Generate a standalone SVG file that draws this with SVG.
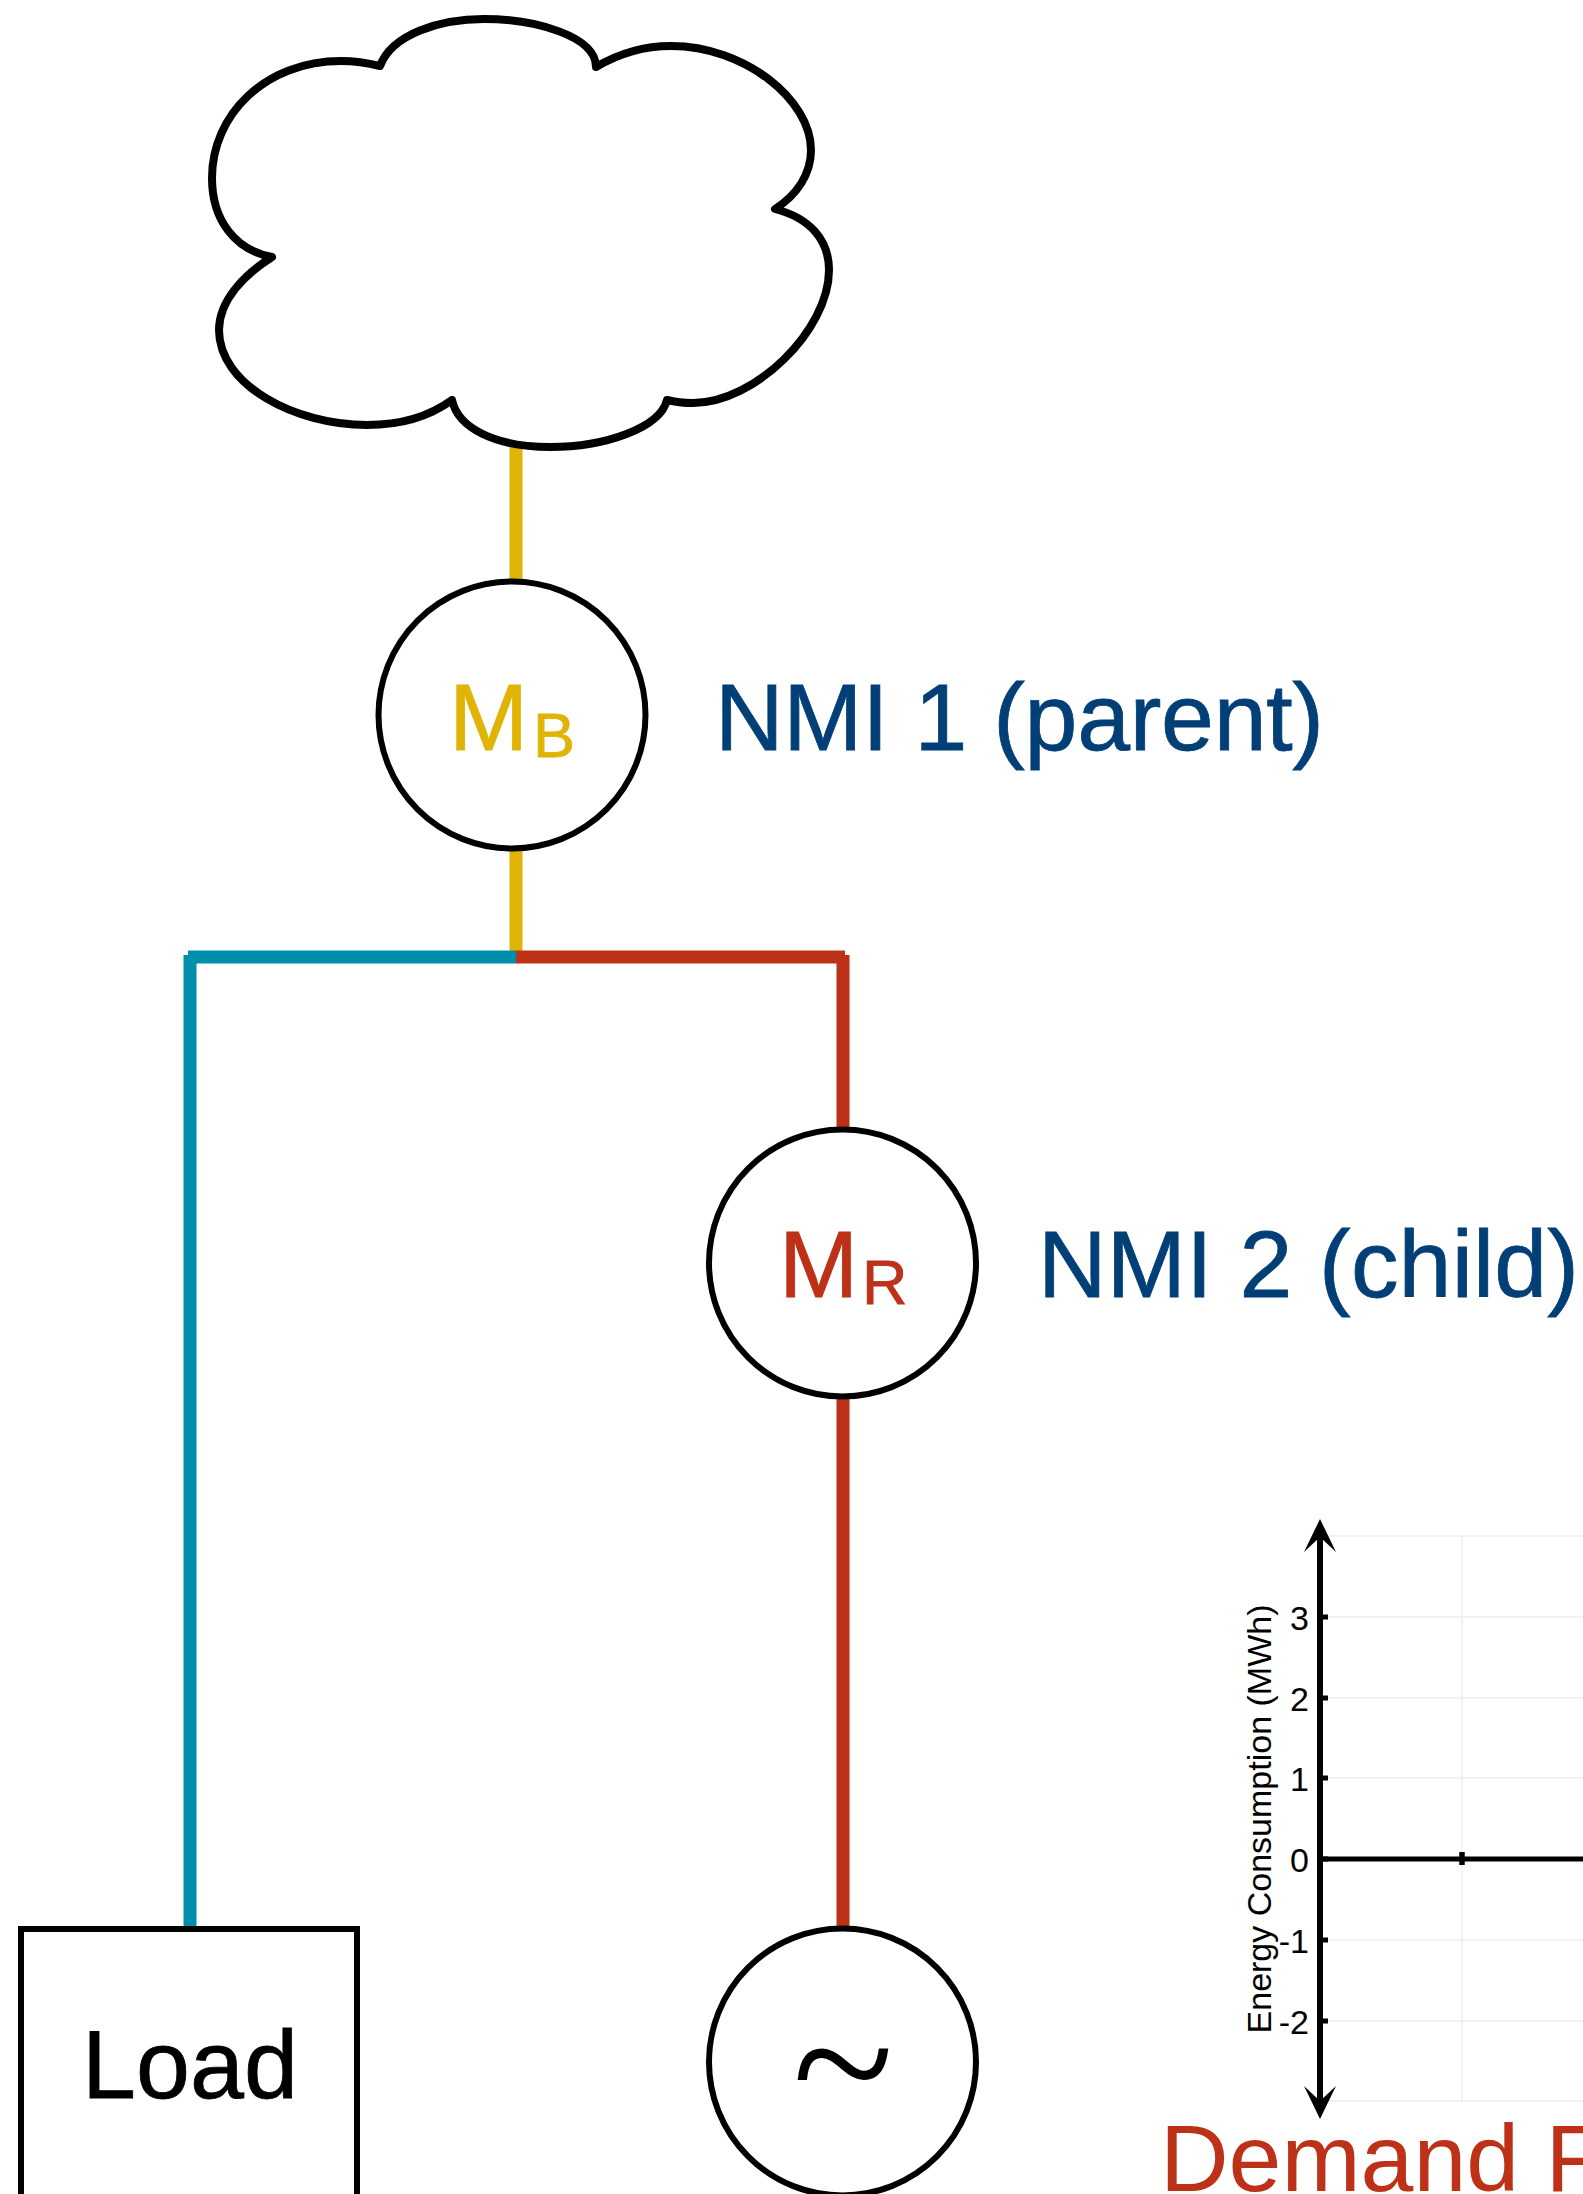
<svg xmlns="http://www.w3.org/2000/svg" width="1583" height="2194" viewBox="0 0 1583 2194">
<defs><style>
text{font-family:"Liberation Sans",Arial,sans-serif}
.wire{fill:none;stroke-width:13}
.y{stroke:#E0B406}.r{stroke:#BD3118}.t{stroke:#008FAB}
.node{fill:#fff;stroke:#000;stroke-width:6}
.big{font-size:95px}
.sub{font-size:63px}
.navy{fill:#023F77;stroke:#023F77;stroke-width:.8}
.grid{stroke:#EEE;stroke-width:1.5;fill:none}
.tick{font-size:34px;text-anchor:end}
</style></defs>
<rect width="1583" height="2194" fill="#fff"/>
<g id="connectors">
<path class="wire y" d="M516 440V957"/>
<path class="wire t" d="M516 957H188M190 955V1932"/>
<path class="wire r" d="M516 957H845M843 955V1932"/>
</g>
<g id="cloud"><path d="M380 66C392 34 440 19 484 19C535 19 596 36 596 67C618 54 642 46 671 46C745 46 811 100 811 150C811 174 797 195 775 209C810 218 829 240 829 270C829 330 755 403 693 403C684 403 675 402 667 400C660 428 605 447 550 447C495 447 458 428 452 400C430 416 400 425 367 425C295 425 219 385 219 330C219 300 245 274 272 257C235 250 212 220 212 178C212 115 265 61 341 61C355 61 368 63 380 66Z" fill="#fff" stroke="#000" stroke-width="8" stroke-linejoin="round"/></g>
<g id="meter-b"><circle class="node" cx="512" cy="715" r="133.5"/>
<text class="big" x="449" y="750" fill="#E0B406" stroke="#E0B406" stroke-width=".8">M</text><text class="sub" x="533" y="757" fill="#E0B406" stroke="#E0B406" stroke-width=".8">B</text></g>
<text id="nmi1" class="big navy" x="715" y="750" textLength="609">NMI 1 (parent)</text>
<g id="meter-r"><circle class="node" cx="842.5" cy="1263" r="133.5"/>
<text class="big" x="779" y="1297" fill="#BD3118" stroke="#BD3118" stroke-width=".8">M</text><text class="sub" x="862" y="1304" fill="#BD3118" stroke="#BD3118" stroke-width=".8">R</text></g>
<text id="nmi2" class="big navy" x="1038" y="1297" textLength="541">NMI 2 (child)</text>
<g id="load"><rect class="node" x="21" y="1929" width="336" height="270"/><text x="190" y="2098" font-size="97" text-anchor="middle" stroke="#000" stroke-width=".8">Load</text></g>
<g id="generator"><circle class="node" cx="842.5" cy="2062" r="133.5"/><text x="843" y="2126" font-size="187" text-anchor="middle" style="font-family:'Liberation Serif',serif">~</text></g>
<g id="chart">
<path class="grid" d="M1320 1536H1583M1320 1617H1583M1320 1698H1583M1320 1778H1583M1320 1940H1583M1320 2021H1583M1320 2101H1583M1462 1536V2101"/>
<path d="M1320 1530V2108" stroke="#000" stroke-width="6" fill="none"/>
<path d="M1320 1859H1583" stroke="#000" stroke-width="5" fill="none"/>
<path d="M1320 1519L1336 1552L1320 1537L1304 1552ZM1320 2119L1336 2086L1320 2101L1304 2086Z" fill="#000"/>
<path d="M1320 1617H1328M1320 1698H1328M1320 1778H1328M1320 1859H1328M1320 1940H1328M1320 2021H1328" stroke="#000" stroke-width="5" fill="none"/>
<path d="M1462 1852V1865" stroke="#000" stroke-width="5.5" fill="none"/>
<text class="tick" x="1309" y="1630">3</text>
<text class="tick" x="1309" y="1711">2</text>
<text class="tick" x="1309" y="1791">1</text>
<text class="tick" x="1309" y="1872">0</text>
<text class="tick" x="1309" y="1953">-1</text>
<text class="tick" x="1309" y="2034">-2</text>
<text transform="translate(1271 1819) rotate(-90)" font-size="34" text-anchor="middle">Energy Consumption (MWh)</text>
</g>
<text id="demand" class="big" x="1160" y="2191" fill="#BD3118">Demand F</text>
</svg>
